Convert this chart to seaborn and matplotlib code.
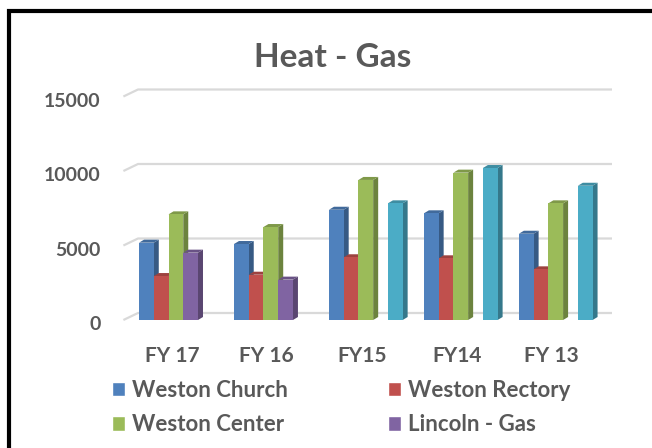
import numpy as np
import pandas as pd
import matplotlib
matplotlib.use("Agg")
import matplotlib.pyplot as plt
import seaborn as sns
from matplotlib.patches import Polygon, Patch, Rectangle
from matplotlib.transforms import ScaledTranslation
from matplotlib.colors import to_rgb

# chart data
years = ["FY 17", "FY 16", "FY15", "FY14", "FY 13"]
series = ["Weston Church", "Weston Rectory", "Weston Center", "Lincoln - Gas", "Lincoln - Gas (old)"]
weston_church = [5190, 5100, 7400, 7160, 5790]
weston_rectory = [2950, 3040, 4210, 4140, 3400]
weston_center = [7090, 6240, 9400, 9890, 7830]
lincoln_gas = [4520, 2710, 0, 0, 0]
lincoln_gas_old = [0, 0, 7830, 10200, 9010]
colors = ["#4F81BD", "#C0504D", "#9BBB59", "#8064A2", "#4BACC6"]
y_ticks = [0, 5000, 10000, 15000]

values = [weston_church, weston_rectory, weston_center, lincoln_gas, lincoln_gas_old]
df = pd.DataFrame({
    "Year": years * len(series),
    "Site": np.repeat(series, len(years)),
    "Therms": np.concatenate(values),
})

sns.set_style("white")
plt.rcParams["font.family"] = ["Lato", "DejaVu Sans"]
plt.rcParams["font.weight"] = "bold"
grey = "#595959"

W, H = 652, 448
fig = plt.figure(figsize=(W / 100, H / 100), dpi=100)
ax_left, ax_bottom, ax_w, ax_h = 128.4, 128, 474.8, 223.5
ax = fig.add_axes([ax_left / W, ax_bottom / H, ax_w / W, ax_h / H])

sns.barplot(data=df, x="Year", y="Therms", hue="Site", order=years, hue_order=series,
            palette=colors, saturation=1, width=0.776, errorbar=None, legend=False, ax=ax)
ax.set_xlim(-0.5, 4.5)
ax.set_ylim(0, 15000)

# px -> data units
kx = 5 / ax_w
ky = 15000 / ax_h
dx, dy = 5 * kx, 3 * ky
n = len(series)

# fake 3d faces for each column
for p in ax.patches:
    if not isinstance(p, Rectangle):
        continue
    x0, w, h = p.get_x(), p.get_width(), p.get_height()
    c = x0 + w / 2
    j = int(round((c - round(c)) / w + (n - 1) / 2))
    p.set_zorder(2 + j * 0.1 + 0.05)
    p.set_linewidth(0)
    if h <= 0:
        continue
    rgb = np.array(to_rgb(p.get_facecolor()))
    side = Polygon([(x0 + w, 0), (x0 + w, h), (x0 + w + dx, h + dy), (x0 + w + dx, dy)],
                   closed=True, facecolor=rgb * 0.7, lw=0, zorder=2 + j * 0.1, clip_on=False)
    top = Polygon([(x0, h), (x0 + w, h), (x0 + w + dx, h + dy), (x0 + dx, h + dy)],
                  closed=True, facecolor=rgb * 0.82, lw=0, zorder=2 + j * 0.1, clip_on=False)
    ax.add_patch(side)
    ax.add_patch(top)

# back wall gridlines with the floor diagonal
for v in y_ticks:
    xb0 = -0.5 + 9.6 * kx
    xb1 = 4.5 + 8.8 * kx
    yb = v + 7 * ky
    ax.plot([-0.5 - 5 * kx, xb0, xb1], [v, yb, yb], color="#D9D9D9", lw=1.6,
            clip_on=False, zorder=1, solid_capstyle="butt")

ax.set_yticks(y_ticks)
ax.set_yticklabels([str(v) for v in y_ticks])
ax.set_xlabel("")
ax.set_ylabel("")
ax.tick_params(axis="y", length=0, pad=20, labelsize=14, labelcolor=grey)
ax.tick_params(axis="x", length=0, pad=19, labelsize=15, labelcolor=grey)
for lab in ax.get_yticklabels():
    lab.set_fontweight("bold")
    lab.set_transform(lab.get_transform() + ScaledTranslation(0, -0.03, fig.dpi_scale_trans))
for lab in ax.get_xticklabels():
    lab.set_fontweight("bold")
    lab.set_transform(lab.get_transform() + ScaledTranslation(-0.04, 0, fig.dpi_scale_trans))
sns.despine(ax=ax, left=True, bottom=True)
ax.grid(False)

fig.text(333 / W, 1 - 66.7 / H, "Heat - Gas", ha="center", va="baseline",
         fontsize=24, fontweight="bold", color=grey)

# legend fills column-wise, so order entries to read row by row
order = [0, 2, 1, 3]
handles = [Patch(facecolor=colors[i], label=series[i]) for i in order]
fig.legend(handles=handles, ncol=2, loc="upper left", bbox_to_anchor=(112 / W, 1 - 380 / H),
           frameon=False, handlelength=0.6, handleheight=0.6,
           handletextpad=0.3, columnspacing=4.5, labelspacing=0.6, borderpad=0,
           borderaxespad=0, labelcolor=grey, prop={"weight": "bold", "size": 16})

# chart frame (only left and top edges are inside the crop)
fig.add_artist(Rectangle((9 / W, -0.5), 2, 1 - 11.5 / H + 0.5, transform=fig.transFigure,
                         fill=False, edgecolor="black", lw=3))

fig.savefig("out.png", dpi=100)
